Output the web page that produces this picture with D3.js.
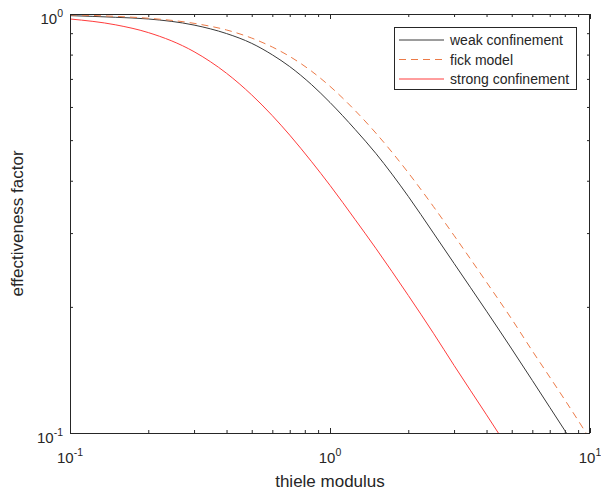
<!DOCTYPE html>
<html>
<head>
<meta charset="utf-8">
<script src="https://cdn.jsdelivr.net/npm/d3@7"></script>
<style>
  body { margin: 0; background: #fff; }
  text { font-family: "Liberation Sans", Arial, sans-serif; fill: #262626; }
  .axis path { display: none; }
  .axis line { stroke: #262626; stroke-width: 1; }
</style>
</head>
<body>
<div id="chart"></div>
<script>
var w = 601;
var h = 494;
var margin = {left: 70, right: 11, top: 14, bottom: 61};

// thiele modulus sample points
var phi = [0.1, 0.15, 0.2, 0.3, 0.4, 0.5, 0.6, 0.7, 0.85, 1, 1.25, 1.5, 2, 2.5, 3, 4, 5, 6, 7, 8, 10];
// effectiveness factor
var weak   = [0.991, 0.982, 0.973, 0.941, 0.898, 0.851, 0.799, 0.749, 0.678, 0.615, 0.530, 0.465, 0.367, 0.300, 0.254, 0.1953, 0.1587, 0.1335, 0.1152, 0.1014, 0.0817];
var fick   = [0.995, 0.987, 0.977, 0.950, 0.916, 0.876, 0.834, 0.792, 0.730, 0.672, 0.588, 0.520, 0.418, 0.347, 0.296, 0.229, 0.187, 0.157, 0.136, 0.120, 0.0967];
var strong = [0.973, 0.942, 0.903, 0.813, 0.722, 0.641, 0.572, 0.514, 0.444, 0.390, 0.323, 0.276, 0.213, 0.173, 0.145, 0.1105, 0.0893, 0.075, 0.064, 0.056, 0.045];

var seriesNames = ["weak confinement", "fick model", "strong confinement"];
var xMajor = [0.1, 1, 10];
var xMinor = [0.2, 0.3, 0.4, 0.5, 0.6, 0.7, 0.8, 0.9, 2, 3, 4, 5, 6, 7, 8, 9];
var yMajor = [0.1, 1];
var yMinor = [0.2, 0.3, 0.4, 0.5, 0.6, 0.7, 0.8, 0.9];
var xLabels = ["-1", "0", "1"];
var yLabels = ["-1", "0"];

var series = [
  {name: seriesNames[0], values: weak,   color: "#3a3a3a", dash: null},
  {name: seriesNames[1], values: fick,   color: "#ec7a47", dash: "7,5"},
  {name: seriesNames[2], values: strong, color: "#ff3c3c", dash: null}
];

var x = d3.scaleLog().domain([0.1, 10]).range([margin.left, w - margin.right]);
var y = d3.scaleLog().domain([0.1, 1]).range([h - margin.bottom, margin.top]);

var svg = d3.select("#chart")
  .append("svg")
  .attr("width", w)
  .attr("height", h);

svg.append("clipPath").attr("id", "clip")
  .append("rect")
  .attr("x", x.range()[0])
  .attr("y", y.range()[1])
  .attr("width", x.range()[1] - x.range()[0])
  .attr("height", y.range()[0] - y.range()[1]);

// ticks, all pointing inwards, on all four sides
function ticks(axisFn, scale, vals, size, tr) {
  svg.append("g")
    .attr("class", "axis")
    .attr("transform", tr)
    .call(axisFn(scale).tickValues(vals).tickSize(size).tickFormat(""));
}
var x0 = x.range()[0], x1 = x.range()[1];
var y0 = y.range()[0], y1 = y.range()[1];
ticks(d3.axisBottom, x, xMajor, -5, "translate(0," + y0 + ")");
ticks(d3.axisBottom, x, xMinor, -3, "translate(0," + y0 + ")");
ticks(d3.axisTop, x, xMajor, -5, "translate(0," + y1 + ")");
ticks(d3.axisTop, x, xMinor, -3, "translate(0," + y1 + ")");
ticks(d3.axisLeft, y, yMajor, -5, "translate(" + x0 + ",0)");
ticks(d3.axisLeft, y, yMinor, -3, "translate(" + x0 + ",0)");
ticks(d3.axisRight, y, yMajor, -5, "translate(" + x1 + ",0)");
ticks(d3.axisRight, y, yMinor, -3, "translate(" + x1 + ",0)");

// curves
var line = d3.line()
  .x(function(d) { return x(d[0]); })
  .y(function(d) { return y(d[1]); })
  .curve(d3.curveMonotoneX);

svg.append("g").attr("clip-path", "url(#clip)")
  .selectAll("path")
  .data(series)
  .enter()
  .append("path")
  .attr("d", function(s) {
    return line(phi.map(function(p, i) { return [p, s.values[i]]; }));
  })
  .attr("fill", "none")
  .attr("stroke", function(s) { return s.color; })
  .attr("stroke-width", 1)
  .attr("stroke-dasharray", function(s) { return s.dash; });

// box
svg.append("rect")
  .attr("x", x0 + 0.5).attr("y", y1 + 0.5)
  .attr("width", x1 - x0 - 1).attr("height", y0 - y1)
  .attr("fill", "none")
  .attr("stroke", "#262626")
  .attr("stroke-width", 1);

// tick labels with exponents
function powLabel(g, exp) {
  g.append("tspan").text("10");
  g.append("tspan").attr("dy", -7).attr("font-size", "10.5px").text(exp);
}
svg.selectAll(".xlab")
  .data(xMajor)
  .enter()
  .append("text")
  .attr("class", "xlab")
  .attr("x", function(d) { return x(d); })
  .attr("y", y0 + 30)
  .attr("text-anchor", "middle")
  .attr("font-size", "15px")
  .each(function(d, i) { powLabel(d3.select(this), xLabels[i]); });

svg.selectAll(".ylab")
  .data(yMajor)
  .enter()
  .append("text")
  .attr("class", "ylab")
  .attr("x", x0 - 7)
  .attr("y", function(d) { return y(d) + 9.5; })
  .attr("text-anchor", "end")
  .attr("font-size", "15px")
  .each(function(d, i) { powLabel(d3.select(this), yLabels[i]); });

// axis titles
svg.append("text")
  .attr("x", (x0 + x1) / 2)
  .attr("y", 487)
  .attr("text-anchor", "middle")
  .attr("font-size", "17px")
  .text("thiele modulus");

svg.append("text")
  .attr("transform", "translate(23," + ((y0 + y1) / 2) + ") rotate(-90)")
  .attr("text-anchor", "middle")
  .attr("font-size", "17px")
  .text("effectiveness factor");

// legend
var legend = svg.append("g").attr("transform", "translate(394,27)");
legend.append("rect")
  .attr("x", 0.5).attr("y", 0.5)
  .attr("width", 182).attr("height", 62)
  .attr("fill", "#fff")
  .attr("stroke", "#262626")
  .attr("stroke-width", 1);
var item = legend.selectAll(".item")
  .data(series)
  .enter()
  .append("g")
  .attr("class", "item")
  .attr("transform", function(d, i) { return "translate(0," + (13 + i * 19.5) + ")"; });
item.append("line")
  .attr("x1", 5).attr("x2", 50)
  .attr("stroke", function(d) { return d.color; })
  .attr("stroke-width", 1)
  .attr("stroke-dasharray", function(d) { return d.dash; });
item.append("text")
  .attr("x", 56)
  .attr("y", 5)
  .attr("font-size", "14px")
  .text(function(d) { return d.name; });
</script>
</body>
</html>
